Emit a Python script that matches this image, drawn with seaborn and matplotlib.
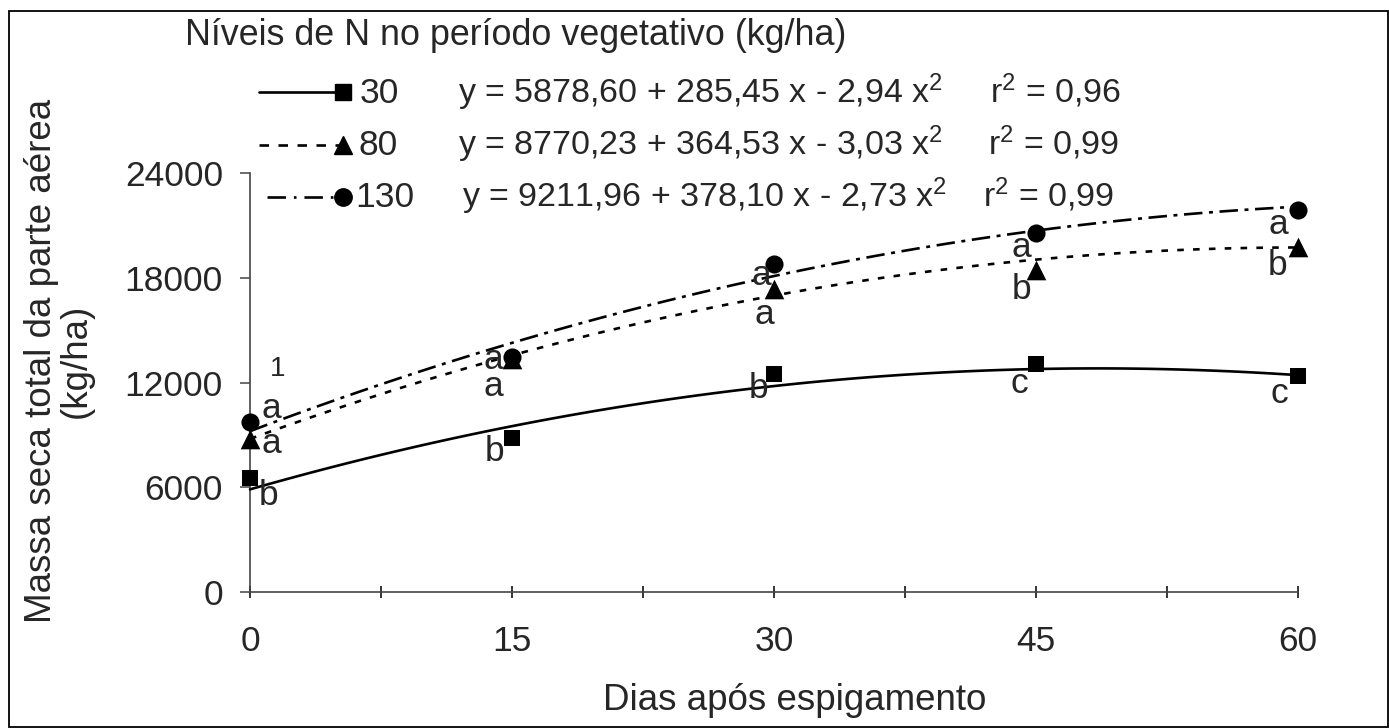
import numpy as np
import pandas as pd
import matplotlib
matplotlib.use("Agg")
import matplotlib.pyplot as plt
import seaborn as sns
from matplotlib.lines import Line2D
from matplotlib.patches import Rectangle

# Days after heading and dry mass (kg/ha) for each N level
days = [0, 15, 30, 45, 60]
n_levels = ["30", "80", "130"]
mass_n30 = [6540, 8820, 12510, 13080, 12400]
mass_n80 = [8760, 13370, 17350, 18430, 19740]
mass_n130 = [9730, 13480, 18770, 20590, 21900]

# Quadratic fits: intercept, linear, quadratic term
coef_n30 = [5878.60, 285.45, -2.94]
coef_n80 = [8770.23, 364.53, -3.03]
coef_n130 = [9211.96, 378.10, -2.73]
r2_values = ["0,96", "0,99", "0,99"]

# Mean comparison letters
letters_n30 = ["b", "b", "b", "c", "c"]
letters_n80 = ["a", "a", "a", "b", "b"]
letters_n130 = ["a", "a", "a", "a", "a"]

x_ticks = [0, 15, 30, 45, 60]
y_ticks = [0, 6000, 12000, 18000, 24000]

sns.set_theme(style="white")
plt.rcParams["font.family"] = ["Liberation Sans", "DejaVu Sans"]
plt.rcParams["mathtext.fontset"] = "custom"
plt.rcParams["mathtext.rm"] = "Liberation Sans"

FS = 25.5       # ticks, legend title, letters
FS_LAB = 26.5   # axis titles
FS_EQ = 24.5    # fitted equations
W, H = 1389, 728
fig = plt.figure(figsize=(W / 100, H / 100), dpi=100)
fig.patch.set_facecolor("white")

L, R, T, B = 250, 1298, 173, 592
ax = fig.add_axes([L / W, 1 - B / H, (R - L) / W, (B - T) / H])
ax.set_facecolor("white")

styles = {
    "30": dict(ls="-", marker="s", s=130),
    "80": dict(ls=(0, (2.5, 3.5)), marker="^", s=200),
    "130": dict(ls=(0, (7, 2.5, 1.5, 2.5)), marker="o", s=170),
}
series = {
    "30": (mass_n30, coef_n30, letters_n30),
    "80": (mass_n80, coef_n80, letters_n80),
    "130": (mass_n130, coef_n130, letters_n130),
}

# Letter offsets (pixels) relative to each point
letter_offsets = {
    "30": [(19, -18), (-17, -13), (-15, -15), (-17, -20), (-19, -18)],
    "80": [(21, -4), (-19, -28), (-10, -25), (-14, -19), (-20, -18)],
    "130": [(21, 14), (-19, -3), (-13, -11), (-15, -15), (-20, -15)],
}

xfit = np.linspace(0, 60, 121)
for lvl in n_levels:
    mass, coef, letters = series[lvl]
    st = styles[lvl]
    yfit = coef[0] + coef[1] * xfit + coef[2] * xfit ** 2
    sns.lineplot(x=xfit, y=yfit, ax=ax, color="black", linewidth=1.9,
                 linestyle=st["ls"], clip_on=False, zorder=3)
    sns.scatterplot(x=days, y=mass, ax=ax, color="black", marker=st["marker"],
                    s=st["s"], edgecolor="black", linewidth=0, clip_on=False,
                    zorder=4)
    for d, m, let, off in zip(days, mass, letters, letter_offsets[lvl]):
        ax.annotate(let, (d, m), xytext=off, textcoords="offset pixels",
                    ha="center", va="center", fontsize=FS, zorder=5)

# footnote marker
ax.annotate("1", (days[0], mass_n130[0]), xytext=(28, 53),
            textcoords="offset pixels", ha="center", va="center", fontsize=20)

ax.set_xlim(0, 60)
ax.set_ylim(0, 24000)
ax.set_xticks(x_ticks)
ax.set_xticks([7.5, 22.5, 37.5, 52.5], minor=True)
ax.set_yticks(y_ticks)
ax.set_xticklabels([str(v) for v in x_ticks], fontsize=FS)
ax.set_yticklabels([str(v) for v in y_ticks], fontsize=FS)
ax.tick_params(axis="x", which="both", direction="inout", length=9, width=1.1,
               color="black", pad=19, bottom=True)
ax.tick_params(axis="y", direction="out", length=7.5, width=1.1,
               color="#444444", pad=12, left=True)
for side in ["top", "right"]:
    ax.spines[side].set_visible(False)
for side in ["left", "bottom"]:
    ax.spines[side].set_color("#444444")
    ax.spines[side].set_linewidth(1.2)
ax.set_xlabel("")
ax.set_ylabel("")

# Overlay in pixel coordinates for legend, axis titles and frame
ov = fig.add_axes([0, 0, 1, 1], zorder=10)
ov.set_xlim(0, W)
ov.set_ylim(H, 0)
ov.axis("off")
ov.patch.set_alpha(0)

ov.add_patch(Rectangle((9, 11), W - 10, H - 12, fill=False,
                       edgecolor="black", linewidth=1.3))

ov.text(795, 701, "Dias após espigamento", ha="center", va="center",
        fontsize=FS_LAB)
ov.text(59, 361, "Massa seca total da parte aérea\n(kg/ha)", ha="center",
        va="center", rotation=90, fontsize=FS_LAB, linespacing=1.0,
        multialignment="center")

ov.text(185, 45, "Níveis de N no período vegetativo (kg/ha)", ha="left",
        va="baseline", fontsize=FS + 0.3)

legend_rows = [
    ("30", coef_n30, r2_values[0], 92, 103, 259, 360, 458, 990, "-", "s", 11.5),
    ("80", coef_n80, r2_values[1], 145, 155, 259, 358, 458, 988,
     (0, (3.6, 3.6)), "^", 13.5),
    ("130", coef_n130, r2_values[2], 197, 207, 267, 355, 462, 983,
     (0, (7, 3, 1, 3)), "o", 12.5),
]


def fmt(v):
    return f"{abs(v):.2f}".replace(".", ",")


for lvl, coef, r2, yc, base, x0, xt, xe, xr, ls, mk, ms in legend_rows:
    ov.add_line(Line2D([x0, 343], [yc, yc], color="black", linewidth=1.9,
                       linestyle=ls))
    ov.add_line(Line2D([343], [yc], color="black", marker=mk, markersize=ms,
                       linestyle="none"))
    ov.text(xt, base, lvl, ha="left", va="baseline", fontsize=FS)
    eq = (f"y = {fmt(coef[0])} + {fmt(coef[1])} x - {fmt(coef[2])} "
          r"$\mathregular{x^2}$")
    ov.text(xe, base, eq, ha="left", va="baseline", fontsize=FS_EQ)
    ov.text(xr, base, r"$\mathregular{r^2}$" + f" = {r2}", ha="left",
            va="baseline", fontsize=FS_EQ)

fig.savefig("out.png", dpi=100, facecolor="white")
